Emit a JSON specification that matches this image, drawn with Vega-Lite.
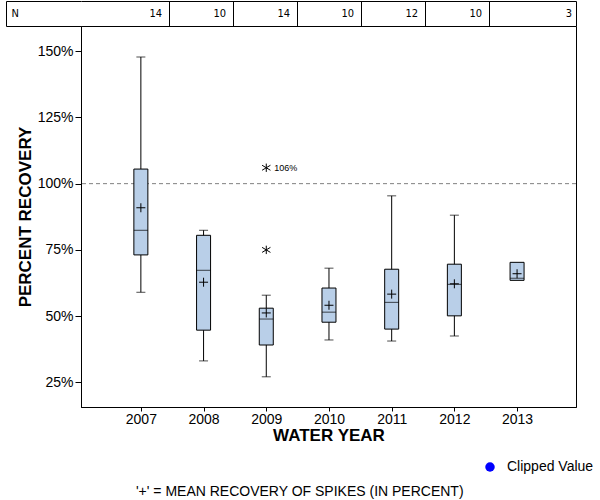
{
  "$schema": "https://vega.github.io/schema/vega-lite/v6.json",
  "padding": {"left": 5, "top": 0, "right": 0, "bottom": 0},
  "background": "white",
  "bounds": "flush",
  "spacing": 0,
  "config": {
    "font": "Liberation Sans",
    "view": {"stroke": "black", "strokeWidth": 1},
    "axis": {"labelColor": "black", "domainColor": "black", "tickColor": "black", "titleColor": "black", "grid": false, "labelFont": "Liberation Sans", "titleFont": "Liberation Sans"}
  },
  "title": {"text": "'+' = MEAN RECOVERY OF SPIKES (IN PERCENT)", "orient": "bottom", "anchor": "middle", "fontSize": 14, "fontWeight": "normal", "color": "black", "offset": 11, "font": "Liberation Sans"},
  "datasets": {
    "counts": [
      {"year": 2007, "n": 14}, {"year": 2008, "n": 10}, {"year": 2009, "n": 14},
      {"year": 2010, "n": 10}, {"year": 2011, "n": 12}, {"year": 2012, "n": 10},
      {"year": 2013, "n": 3}
    ],
    "boxes": [
      {"year": 2007, "lo": 59.0, "q1": 73.1, "median": 82.4, "q3": 105.5, "hi": 147.8, "mean": 90.9},
      {"year": 2008, "lo": 33.1, "q1": 44.7, "median": 67.3, "q3": 80.5, "hi": 82.4, "mean": 62.8},
      {"year": 2009, "lo": 27.1, "q1": 39.1, "median": 48.9, "q3": 53.0, "hi": 57.9, "mean": 51.2},
      {"year": 2010, "lo": 41.0, "q1": 47.7, "median": 51.5, "q3": 60.6, "hi": 68.1, "mean": 54.1},
      {"year": 2011, "lo": 40.6, "q1": 45.1, "median": 55.2, "q3": 67.7, "hi": 95.4, "mean": 58.3},
      {"year": 2012, "lo": 42.5, "q1": 50.1, "median": 62.0, "q3": 69.6, "hi": 88.1, "mean": 62.2},
      {"year": 2013, "lo": null, "q1": 63.5, "median": 64.3, "q3": 70.3, "hi": null, "mean": 66.0}
    ],
    "outliers": [
      {"year": 2009, "value": 106.0, "label": "106%"},
      {"year": 2009, "value": 75.0, "label": ""}
    ],
    "reference": [{"ref": 100}],
    "clipped": []
  },
  "vconcat": [
    {
      "width": 495,
      "height": 25,
      "view": {"stroke": null},
      "data": {"name": "counts"},
      "encoding": {
        "x": {"field": "year", "type": "quantitative", "scale": {"domain": [2006.125, 2013.86], "nice": false, "zero": false},
          "axis": {"orient": "top", "values": [2007.5, 2008.5, 2009.5, 2010.5, 2011.5, 2012.5, 2013.86], "grid": true, "gridColor": "black", "gridOpacity": 1, "gridWidth": 1, "domain": true, "ticks": false, "labels": false, "title": null}},
        "y": {"datum": 0.5, "type": "quantitative", "scale": {"domain": [0, 1], "nice": false, "zero": false},
          "axis": {"orient": "left", "offset": 75, "values": [0, 1], "domain": true, "ticks": true, "tickSize": -75, "labelExpr": "datum.value == 1 ? 'N' : ''", "labelAlign": "left", "labelBaseline": "middle", "labelPadding": 70, "labelOffset": 12.5, "labelFlush": false, "labelOverlap": false, "labelBound": false, "labelFontSize": 11, "labelFont": "DejaVu Sans Condensed, Liberation Sans", "title": null, "grid": false}},
        "text": {"field": "n", "type": "quantitative"}
      },
      "layer": [
        {"transform": [{"filter": "datum.year < 2013"}], "mark": {"type": "text", "align": "right", "baseline": "middle", "dx": 25, "fontSize": 11, "font": "DejaVu Sans Condensed, Liberation Sans", "color": "black"}},
        {"transform": [{"filter": "datum.year == 2013"}], "mark": {"type": "text", "align": "right", "baseline": "middle", "dx": 51, "fontSize": 11, "font": "DejaVu Sans Condensed, Liberation Sans", "color": "black"}}
      ]
    },
    {
      "width": 495,
      "height": 381,
      "layer": [
        {
          "data": {"name": "reference"},
          "mark": {"type": "rule", "color": "#808080", "strokeDash": [4, 3], "strokeWidth": 1},
          "encoding": {"y": {"field": "ref", "type": "quantitative"}}
        },
        {
          "data": {"name": "boxes"},
          "mark": {"type": "rule", "color": "black", "strokeWidth": 1},
          "encoding": {
            "x": {"field": "year", "type": "quantitative", "scale": {"domain": [2006.125, 2013.86], "nice": false, "zero": false},
              "axis": {"values": [2007, 2008, 2009, 2010, 2011, 2012, 2013], "format": "d", "tickSize": 4, "labelPadding": 1, "labelFontSize": 14, "labelFlush": false, "title": "WATER YEAR", "titleFontSize": 17, "titleFontWeight": "bold", "titlePadding": 1}},
            "y": {"field": "lo", "type": "quantitative", "scale": {"domain": [15.7, 159.5], "nice": false, "zero": false},
              "axis": {"values": [25, 50, 75, 100, 125, 150], "labelExpr": "datum.value + '%'", "tickSize": 6, "labelPadding": 2, "labelFontSize": 14, "title": "PERCENT RECOVERY", "titleFontSize": 17, "titleFontWeight": "bold", "titlePadding": 3}},
            "y2": {"field": "hi"}
          }
        },
        {
          "data": {"name": "boxes"},
          "mark": {"type": "tick", "orient": "horizontal", "size": 9, "thickness": 1, "color": "black"},
          "encoding": {
            "x": {"field": "year", "type": "quantitative"},
            "y": {"field": "hi", "type": "quantitative"}
          }
        },
        {
          "data": {"name": "boxes"},
          "mark": {"type": "tick", "orient": "horizontal", "size": 9, "thickness": 1, "color": "black"},
          "encoding": {
            "x": {"field": "year", "type": "quantitative"},
            "y": {"field": "lo", "type": "quantitative"}
          }
        },
        {
          "data": {"name": "boxes"},
          "mark": {"type": "bar", "width": 14, "fill": "#b9cfe8", "stroke": "black", "strokeWidth": 1},
          "encoding": {
            "x": {"field": "year", "type": "quantitative"},
            "y": {"field": "q1", "type": "quantitative"},
            "y2": {"field": "q3"}
          }
        },
        {
          "data": {"name": "boxes"},
          "mark": {"type": "tick", "orient": "horizontal", "size": 14, "thickness": 1, "color": "black"},
          "encoding": {
            "x": {"field": "year", "type": "quantitative"},
            "y": {"field": "median", "type": "quantitative"}
          }
        },
        {
          "data": {"name": "boxes"},
          "mark": {"type": "point", "shape": "M-1,0H1M0,-1V1", "size": 81, "filled": false, "stroke": "black", "strokeWidth": 1, "opacity": 1},
          "encoding": {
            "x": {"field": "year", "type": "quantitative"},
            "y": {"field": "mean", "type": "quantitative"}
          }
        },
        {
          "data": {"name": "outliers"},
          "mark": {"type": "point", "shape": "M-1,-0.6L1,0.6M-1,0.6L1,-0.6M0,-1V1", "size": 70, "filled": false, "stroke": "black", "strokeWidth": 1, "opacity": 1},
          "encoding": {
            "x": {"field": "year", "type": "quantitative"},
            "y": {"field": "value", "type": "quantitative"}
          }
        },
        {
          "data": {"name": "outliers"},
          "mark": {"type": "text", "align": "left", "baseline": "middle", "dx": 8, "fontSize": 9, "color": "black"},
          "encoding": {
            "x": {"field": "year", "type": "quantitative"},
            "y": {"field": "value", "type": "quantitative"},
            "text": {"field": "label"}
          }
        },
        {
          "data": {"name": "clipped"},
          "mark": {"type": "point", "filled": true, "shape": "circle", "opacity": 1},
          "encoding": {
            "x": {"field": "year", "type": "quantitative"},
            "y": {"field": "value", "type": "quantitative"},
            "color": {"field": "kind", "type": "nominal", "scale": {"domain": ["Clipped Value"], "range": ["#0000ff"]},
              "legend": {"orient": "none", "legendX": 402, "legendY": 459, "title": null, "padding": 0, "symbolSize": 90, "symbolType": "circle", "symbolFillColor": "#0000ff", "symbolOpacity": 1, "symbolStrokeWidth": 0, "labelFontSize": 14, "labelColor": "black", "labelOffset": 10, "labelFont": "Liberation Sans"}}
          }
        }
      ]
    }
  ]
}
